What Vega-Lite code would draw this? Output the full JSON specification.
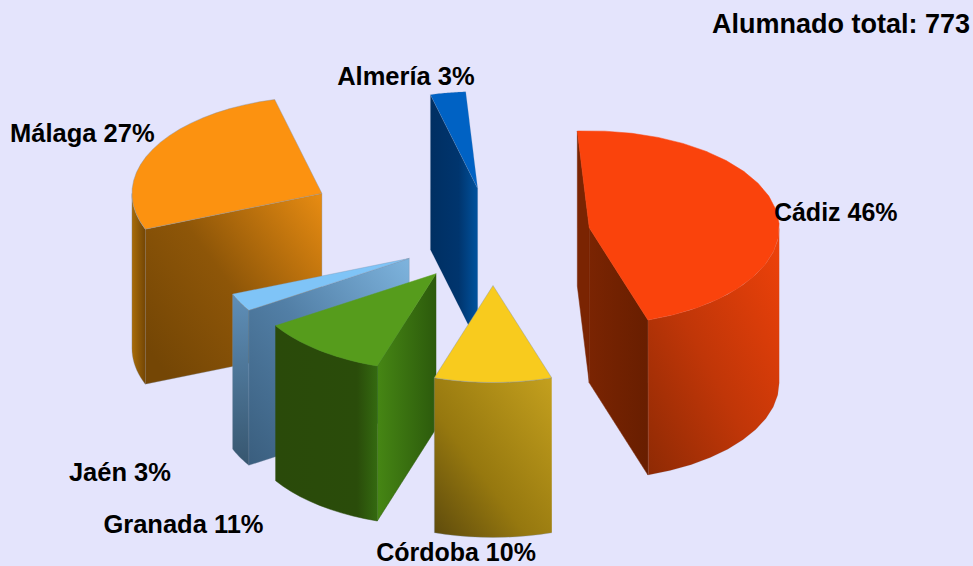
{"$schema":"https://vega.github.io/schema/vega-lite/v6.json","width":973,"height":566,"autosize":{"type":"none"},"padding":0,"background":"#E4E4FC","view":{"stroke":null},
"params":[{"name":"c0x","value":493},{"name":"c0y","value":237},{"name":"rx","value":190},{"name":"ry","value":97},{"name":"depth","value":155},{"name":"startAngle","value":-3.6},
{"name":"topS","value":[-1,0,0.05,0.1,0.15,0.2,0.25,0.3,0.35,0.4,0.45,0.5,0.55,0.6,0.65,0.7,0.75,0.8,0.85,0.9,0.95,1,2]},
{"name":"wallS","value":[0,0.1,0.2,0.3,0.4,0.5,0.6,0.7,0.8,0.9,1,1.001,1.1,1.2,1.3,1.4,1.5,1.6,1.7,1.8,1.9,2,2.001]},
{"name":"cutS","value":[0,1,2,3,4]}],
"data":{"values":[{"seq":1,"region":"Cádiz","share":46,"explode":98},{"seq":2,"region":"Córdoba","share":10,"explode":97},{"seq":3,"region":"Granada","share":11,"explode":93},{"seq":4,"region":"Jaén","share":3,"explode":94},{"seq":5,"region":"Málaga","share":27,"explode":192},{"seq":6,"region":"Almería","share":3,"explode":98},{"seq":7,"region":"Alumnado total","share":0,"explode":0,"total":773}]},
"transform":[{"window":[{"op":"sum","field":"share","as":"cum"}],"sort":[{"field":"seq","order":"ascending"}]},
{"calculate":"startAngle+3.6*(datum.cum-datum.share)","as":"th0"},{"calculate":"startAngle+3.6*datum.cum","as":"th1"},{"calculate":"(datum.th0+datum.th1)/2","as":"mid"},
{"calculate":"c0x+datum.explode*sin(datum.mid*PI/180)","as":"cx"},{"calculate":"c0y-0.5*datum.explode*cos(datum.mid*PI/180)","as":"cy"},
{"calculate":"datum.cx+rx*sin(datum.mid*PI/180)","as":"lx"},{"calculate":"datum.cy-ry*cos(datum.mid*PI/180)","as":"ly"},
{"calculate":"datum.seq==7?datum.region+': '+datum.total:datum.region+' '+datum.share+'%'","as":"label"}],
"encoding":{"x":{"field":"px","type":"quantitative","scale":{"domain":[0,973]},"axis":null},"y":{"field":"py","type":"quantitative","scale":{"domain":[0,566],"reverse":true},"axis":null},"order":{"field":"c","type":"quantitative"}},
"layer":[
{"transform":[{"filter":"datum.region==='Málaga'"},{"calculate":"cutS","as":"c"},{"flatten":["c"]},{"calculate":"datum.th0","as":"a"},{"calculate":"(datum.c==1||datum.c==2)?datum.cx+rx*sin(datum.a*PI/180):datum.cx","as":"px"},{"calculate":"((datum.c==1||datum.c==2)?datum.cy-ry*cos(datum.a*PI/180):datum.cy)+((datum.c==2||datum.c==3)?depth:0)","as":"py"}],"mark":{"type":"line","fill":{"gradient":"linear","x1":1,"y1":0,"x2":0,"y2":0.8,"stops":[{"offset":0,"color":"#E88C12"},{"offset":0.55,"color":"#8E5608"},{"offset":1,"color":"#744605"}]},"stroke":"#8090A8","strokeWidth":0.8,"strokeOpacity":0.4}},
{"transform":[{"filter":"datum.region==='Málaga'"},{"calculate":"wallS","as":"c"},{"flatten":["c"]},{"calculate":"datum.c<=1?datum.c:2-datum.c","as":"f"},{"calculate":"max(datum.th0,90)+datum.f*(min(datum.th1,270)-max(datum.th0,90))","as":"a"},{"calculate":"datum.cx+rx*sin(datum.a*PI/180)","as":"px"},{"calculate":"datum.cy-ry*cos(datum.a*PI/180)+(datum.c<=1?0:depth)","as":"py"}],"mark":{"type":"line","fill":{"gradient":"linear","x1":0,"y1":0,"x2":1,"y2":0,"stops":[{"offset":0,"color":"#A86C08"},{"offset":1,"color":"#744605"}]},"stroke":"#8090A8","strokeWidth":0.8,"strokeOpacity":0.4}},
{"transform":[{"filter":"datum.region==='Málaga'"},{"calculate":"topS","as":"c"},{"flatten":["c"]},{"calculate":"datum.th0+datum.c*(datum.th1-datum.th0)","as":"a"},{"calculate":"(datum.c<0||datum.c>1)?datum.cx:datum.cx+rx*sin(datum.a*PI/180)","as":"px"},{"calculate":"(datum.c<0||datum.c>1)?datum.cy:datum.cy-ry*cos(datum.a*PI/180)","as":"py"}],"mark":{"type":"line","fill":"#FC9210","stroke":"#8090A8","strokeWidth":0.8,"strokeOpacity":0.5}},

{"transform":[{"filter":"datum.region==='Almería'"},{"calculate":"cutS","as":"c"},{"flatten":["c"]},{"calculate":"datum.th0","as":"a"},{"calculate":"(datum.c==1||datum.c==2)?datum.cx+rx*sin(datum.a*PI/180):datum.cx","as":"px"},{"calculate":"((datum.c==1||datum.c==2)?datum.cy-ry*cos(datum.a*PI/180):datum.cy)+((datum.c==2||datum.c==3)?depth:0)","as":"py"}],"mark":{"type":"line","fill":{"gradient":"linear","x1":0,"y1":0,"x2":1,"y2":0,"stops":[{"offset":0,"color":"#002F62"},{"offset":0.6,"color":"#00356E"},{"offset":1,"color":"#00529E"}]},"stroke":"#8090A8","strokeWidth":0.5,"strokeOpacity":0.3}},
{"transform":[{"filter":"datum.region==='Almería'"},{"calculate":"topS","as":"c"},{"flatten":["c"]},{"calculate":"datum.th0+datum.c*(datum.th1-datum.th0)","as":"a"},{"calculate":"(datum.c<0||datum.c>1)?datum.cx:datum.cx+rx*sin(datum.a*PI/180)","as":"px"},{"calculate":"(datum.c<0||datum.c>1)?datum.cy:datum.cy-ry*cos(datum.a*PI/180)","as":"py"}],"mark":{"type":"line","fill":"#0062C4","stroke":"#8090A8","strokeWidth":0.5,"strokeOpacity":0.4}},

{"transform":[{"filter":"datum.region==='Cádiz'"},{"calculate":"cutS","as":"c"},{"flatten":["c"]},{"calculate":"datum.th0","as":"a"},{"calculate":"(datum.c==1||datum.c==2)?datum.cx+rx*sin(datum.a*PI/180):datum.cx","as":"px"},{"calculate":"((datum.c==1||datum.c==2)?datum.cy-ry*cos(datum.a*PI/180):datum.cy)+((datum.c==2||datum.c==3)?depth:0)","as":"py"}],"mark":{"type":"line","fill":"#7A2402","stroke":"#7A2402","strokeWidth":0.5}},
{"transform":[{"filter":"datum.region==='Cádiz'"},{"calculate":"cutS","as":"c"},{"flatten":["c"]},{"calculate":"datum.th1","as":"a"},{"calculate":"(datum.c==1||datum.c==2)?datum.cx+rx*sin(datum.a*PI/180):datum.cx","as":"px"},{"calculate":"((datum.c==1||datum.c==2)?datum.cy-ry*cos(datum.a*PI/180):datum.cy)+((datum.c==2||datum.c==3)?depth:0)","as":"py"}],"mark":{"type":"line","fill":{"gradient":"linear","x1":0,"y1":0,"x2":1,"y2":0,"stops":[{"offset":0,"color":"#7A2402"},{"offset":1,"color":"#681E00"}]},"stroke":"#7A2402","strokeWidth":0.5}},
{"transform":[{"filter":"datum.region==='Cádiz'"},{"calculate":"wallS","as":"c"},{"flatten":["c"]},{"calculate":"datum.c<=1?datum.c:2-datum.c","as":"f"},{"calculate":"max(datum.th0,90)+datum.f*(min(datum.th1,270)-max(datum.th0,90))","as":"a"},{"calculate":"datum.cx+rx*sin(datum.a*PI/180)","as":"px"},{"calculate":"datum.cy-ry*cos(datum.a*PI/180)+(datum.c<=1?0:depth)","as":"py"}],"mark":{"type":"line","fill":{"gradient":"linear","x1":1,"y1":0,"x2":0,"y2":1,"stops":[{"offset":0,"color":"#F0420A"},{"offset":0.55,"color":"#C03608"},{"offset":1,"color":"#8E2A04"}]},"stroke":"#8090A8","strokeWidth":0.5,"strokeOpacity":0.3}},
{"transform":[{"filter":"datum.region==='Cádiz'"},{"calculate":"topS","as":"c"},{"flatten":["c"]},{"calculate":"datum.th0+datum.c*(datum.th1-datum.th0)","as":"a"},{"calculate":"(datum.c<0||datum.c>1)?datum.cx:datum.cx+rx*sin(datum.a*PI/180)","as":"px"},{"calculate":"(datum.c<0||datum.c>1)?datum.cy:datum.cy-ry*cos(datum.a*PI/180)","as":"py"}],"mark":{"type":"line","fill":"#FA430C","stroke":"#FA430C","strokeWidth":0.5}},

{"transform":[{"filter":"datum.region==='Jaén'"},{"calculate":"cutS","as":"c"},{"flatten":["c"]},{"calculate":"datum.th0","as":"a"},{"calculate":"(datum.c==1||datum.c==2)?datum.cx+rx*sin(datum.a*PI/180):datum.cx","as":"px"},{"calculate":"((datum.c==1||datum.c==2)?datum.cy-ry*cos(datum.a*PI/180):datum.cy)+((datum.c==2||datum.c==3)?depth:0)","as":"py"}],"mark":{"type":"line","fill":{"gradient":"linear","x1":1,"y1":0,"x2":0,"y2":1,"stops":[{"offset":0,"color":"#7EB4DE"},{"offset":0.5,"color":"#527FA6"},{"offset":1,"color":"#3A5E7E"}]},"stroke":"#8090A8","strokeWidth":0.8,"strokeOpacity":0.4}},
{"transform":[{"filter":"datum.region==='Jaén'"},{"calculate":"wallS","as":"c"},{"flatten":["c"]},{"calculate":"datum.c<=1?datum.c:2-datum.c","as":"f"},{"calculate":"max(datum.th0,90)+datum.f*(min(datum.th1,270)-max(datum.th0,90))","as":"a"},{"calculate":"datum.cx+rx*sin(datum.a*PI/180)","as":"px"},{"calculate":"datum.cy-ry*cos(datum.a*PI/180)+(datum.c<=1?0:depth)","as":"py"}],"mark":{"type":"line","fill":{"gradient":"linear","x1":0,"y1":0,"x2":0,"y2":1,"stops":[{"offset":0,"color":"#5F8FB8"},{"offset":1,"color":"#37566F"}]},"stroke":"#8090A8","strokeWidth":0.8,"strokeOpacity":0.4}},
{"transform":[{"filter":"datum.region==='Jaén'"},{"calculate":"topS","as":"c"},{"flatten":["c"]},{"calculate":"datum.th0+datum.c*(datum.th1-datum.th0)","as":"a"},{"calculate":"(datum.c<0||datum.c>1)?datum.cx:datum.cx+rx*sin(datum.a*PI/180)","as":"px"},{"calculate":"(datum.c<0||datum.c>1)?datum.cy:datum.cy-ry*cos(datum.a*PI/180)","as":"py"}],"mark":{"type":"line","fill":"#7FC4F7","stroke":"#8090A8","strokeWidth":0.8,"strokeOpacity":0.4}},

{"transform":[{"filter":"datum.region==='Granada'"},{"calculate":"cutS","as":"c"},{"flatten":["c"]},{"calculate":"datum.th0","as":"a"},{"calculate":"(datum.c==1||datum.c==2)?datum.cx+rx*sin(datum.a*PI/180):datum.cx","as":"px"},{"calculate":"((datum.c==1||datum.c==2)?datum.cy-ry*cos(datum.a*PI/180):datum.cy)+((datum.c==2||datum.c==3)?depth:0)","as":"py"}],"mark":{"type":"line","fill":{"gradient":"linear","x1":0,"y1":0,"x2":1,"y2":0,"stops":[{"offset":0,"color":"#468614"},{"offset":1,"color":"#2C5A0C"}]},"stroke":"#2C5A0C","strokeWidth":0.5}},
{"transform":[{"filter":"datum.region==='Granada'"},{"calculate":"wallS","as":"c"},{"flatten":["c"]},{"calculate":"datum.c<=1?datum.c:2-datum.c","as":"f"},{"calculate":"max(datum.th0,90)+datum.f*(min(datum.th1,270)-max(datum.th0,90))","as":"a"},{"calculate":"datum.cx+rx*sin(datum.a*PI/180)","as":"px"},{"calculate":"datum.cy-ry*cos(datum.a*PI/180)+(datum.c<=1?0:depth)","as":"py"}],"mark":{"type":"line","fill":{"gradient":"linear","x1":0,"y1":0,"x2":1,"y2":0,"stops":[{"offset":0,"color":"#2A4A0A"},{"offset":0.8,"color":"#2A4C0A"},{"offset":1,"color":"#346A10"}]},"stroke":"#2A4A0A","strokeWidth":0.5}},
{"transform":[{"filter":"datum.region==='Granada'"},{"calculate":"topS","as":"c"},{"flatten":["c"]},{"calculate":"datum.th0+datum.c*(datum.th1-datum.th0)","as":"a"},{"calculate":"(datum.c<0||datum.c>1)?datum.cx:datum.cx+rx*sin(datum.a*PI/180)","as":"px"},{"calculate":"(datum.c<0||datum.c>1)?datum.cy:datum.cy-ry*cos(datum.a*PI/180)","as":"py"}],"mark":{"type":"line","fill":"#569C1C","stroke":"#569C1C","strokeWidth":0.5}},

{"transform":[{"filter":"datum.region==='Córdoba'"},{"calculate":"wallS","as":"c"},{"flatten":["c"]},{"calculate":"datum.c<=1?datum.c:2-datum.c","as":"f"},{"calculate":"max(datum.th0,90)+datum.f*(min(datum.th1,270)-max(datum.th0,90))","as":"a"},{"calculate":"datum.cx+rx*sin(datum.a*PI/180)","as":"px"},{"calculate":"datum.cy-ry*cos(datum.a*PI/180)+(datum.c<=1?0:depth)","as":"py"}],"mark":{"type":"line","fill":{"gradient":"linear","x1":1,"y1":0,"x2":0,"y2":1,"stops":[{"offset":0,"color":"#C4A01E"},{"offset":0.6,"color":"#96780F"},{"offset":1,"color":"#5D4A0C"}]},"stroke":"#8090A8","strokeWidth":0.8,"strokeOpacity":0.4}},
{"transform":[{"filter":"datum.region==='Córdoba'"},{"calculate":"topS","as":"c"},{"flatten":["c"]},{"calculate":"datum.th0+datum.c*(datum.th1-datum.th0)","as":"a"},{"calculate":"(datum.c<0||datum.c>1)?datum.cx:datum.cx+rx*sin(datum.a*PI/180)","as":"px"},{"calculate":"(datum.c<0||datum.c>1)?datum.cy:datum.cy-ry*cos(datum.a*PI/180)","as":"py"}],"mark":{"type":"line","fill":"#F8CB1E","stroke":"#8090A8","strokeWidth":0.8,"strokeOpacity":0.5}},

{"transform":[{"filter":"datum.region==='Cádiz'"}],"mark":{"type":"text","font":"Liberation Sans","fontWeight":"bold","fontSize":25,"color":"#000","align":"left","baseline":"middle","dy":3,"dx":-2},"encoding":{"x":{"field":"lx","type":"quantitative"},"y":{"field":"ly","type":"quantitative"},"text":{"field":"label"},"order":{"value":null}}},
{"transform":[{"filter":"datum.region==='Málaga'"}],"mark":{"type":"text","font":"Liberation Sans","fontWeight":"bold","fontSize":25.5,"color":"#000","align":"right","baseline":"middle","dx":2,"dy":-15},"encoding":{"x":{"field":"lx","type":"quantitative"},"y":{"field":"ly","type":"quantitative"},"text":{"field":"label"},"order":{"value":null}}},
{"transform":[{"filter":"datum.region==='Almería'"}],"mark":{"type":"text","font":"Liberation Sans","fontWeight":"bold","fontSize":25.5,"color":"#000","align":"center","baseline":"middle","dx":-42,"dy":-16},"encoding":{"x":{"field":"lx","type":"quantitative"},"y":{"field":"ly","type":"quantitative"},"text":{"field":"label"},"order":{"value":null}}},
{"transform":[{"filter":"datum.region==='Córdoba'"}],"mark":{"type":"text","font":"Liberation Sans","fontWeight":"bold","fontSize":25,"color":"#000","align":"center","baseline":"middle","dx":-37,"dy":170},"encoding":{"x":{"field":"lx","type":"quantitative"},"y":{"field":"ly","type":"quantitative"},"text":{"field":"label"},"order":{"value":null}}},
{"transform":[{"filter":"datum.region==='Granada'"}],"mark":{"type":"text","font":"Liberation Sans","fontWeight":"bold","fontSize":25.5,"color":"#000","align":"right","baseline":"middle","dx":-56,"dy":175},"encoding":{"x":{"field":"lx","type":"quantitative"},"y":{"field":"ly","type":"quantitative"},"text":{"field":"label"},"order":{"value":null}}},
{"transform":[{"filter":"datum.region==='Jaén'"}],"mark":{"type":"text","font":"Liberation Sans","fontWeight":"bold","fontSize":25.5,"color":"#000","align":"right","baseline":"middle","dx":-69,"dy":171},"encoding":{"x":{"field":"lx","type":"quantitative"},"y":{"field":"ly","type":"quantitative"},"text":{"field":"label"},"order":{"value":null}}},
{"transform":[{"filter":"datum.seq==7"},{"calculate":"970","as":"px"},{"calculate":"25","as":"py"}],"mark":{"type":"text","font":"Liberation Sans","fontWeight":"bold","fontSize":27,"color":"#000","align":"right","baseline":"middle"},"encoding":{"text":{"field":"label"},"order":{"value":null}}}
]}
